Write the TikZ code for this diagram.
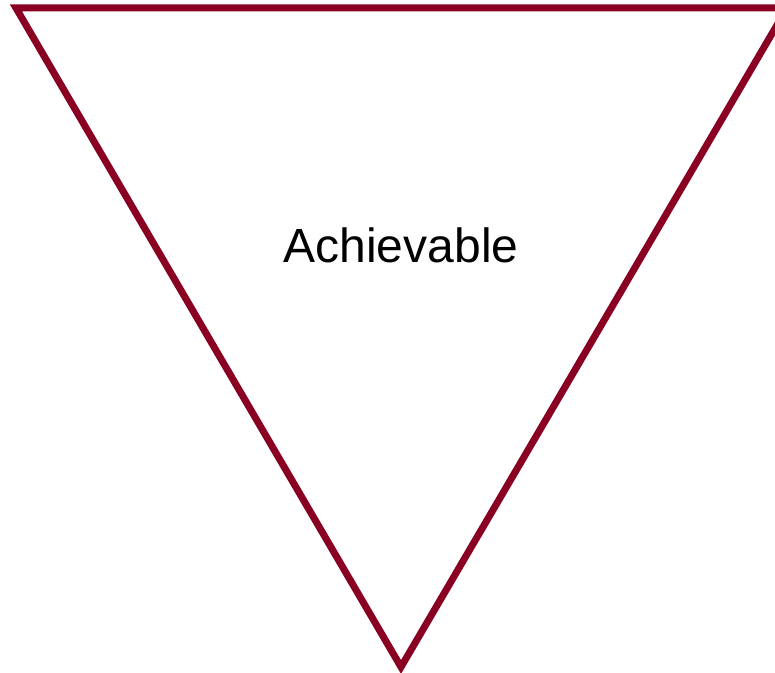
\documentclass[tikz,border=0pt]{standalone}
\usepackage{fontspec}
\setmainfont{Liberation Sans}
\usepackage{xcolor}
\usepackage{tikz}
\definecolor{wine}{HTML}{8A0022}
\tikzset{
  funnel/.style={draw=wine, line width=7pt, line join=miter},
  lbl/.style={font=\fontsize{48}{56}\selectfont, inner sep=0pt, anchor=base},
}

\begin{document}
\begin{tikzpicture}[x=1pt, y=1pt]
\useasboundingbox (0,0) rectangle (775,672);
\coordinate (tl) at (16,664);
\coordinate (tr) at (787,664);
\coordinate (bot) at (401,5);
\draw[funnel] (tl) -- (tr) -- (bot) -- cycle;
\node[lbl] (goal) at (401,409) {Achievable};
\end{tikzpicture}
\end{document}
